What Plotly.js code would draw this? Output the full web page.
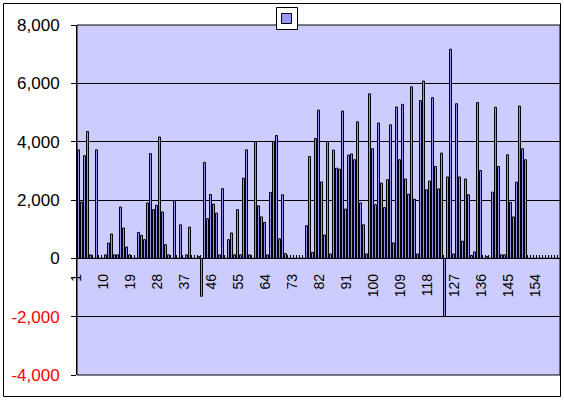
<!DOCTYPE html>
<html>
<head>
<meta charset="utf-8">
<script src="https://cdn.plot.ly/plotly-3.0.1.min.js"></script>
<style>
html,body{margin:0;padding:0;background:#fff;}
#chart{width:564px;height:400px;}
</style>
</head>
<body>
<div id="chart"></div>
<script>
// Category indices (1..161)
var categories = [
1,2,3,4,5,6,7,8,9,10,11,12,13,14,15,16,17,18,19,20,
21,22,23,24,25,26,27,28,29,30,31,32,33,34,35,36,37,38,39,40,
41,42,43,44,45,46,47,48,49,50,51,52,53,54,55,56,57,58,59,60,
61,62,63,64,65,66,67,68,69,70,71,72,73,74,75,76,77,78,79,80,
81,82,83,84,85,86,87,88,89,90,91,92,93,94,95,96,97,98,99,100,
101,102,103,104,105,106,107,108,109,110,111,112,113,114,115,116,117,118,119,120,
121,122,123,124,125,126,127,128,129,130,131,132,133,134,135,136,137,138,139,140,
141,142,143,144,145,146,147,148,149,150,151,152,153,154,155,156,157,158,159,160,161];

// Series values
var values = [
3720,1930,3520,4350,120,0,3720,0,0,120,
525,835,120,120,1760,1040,390,120,0,0,
890,790,640,1900,3590,1670,1820,4160,1590,470,
120,0,1980,0,1150,0,120,1070,0,0,
60,-1300,3290,1360,2190,1860,1550,120,2390,0,
640,870,120,1670,120,2750,3720,120,0,4000,
1800,1420,1230,120,2260,4010,4210,670,2180,160,
0,0,0,0,0,0,1120,3490,200,4110,
5080,2620,800,4010,150,3710,3090,3060,5050,1690,
3540,3580,3380,4680,1900,1150,150,5640,3760,1840,
4640,2580,1740,2700,4580,530,5190,3380,5280,2720,
2200,5880,2030,150,5410,6080,2350,2650,5510,3150,
2380,3610,-2000,2790,7170,150,5300,2790,590,2720,
2180,100,220,5340,3010,0,60,0,2270,5180,
3150,120,120,3550,1920,1420,2610,5220,3760,3380,
0,0,0,0,0,0,0,0,0,0,0];

// Category tick labels
var xTickVals = [1,10,19,28,37,46,55,64,73,82,91,100,109,118,127,136,145,154];
var xTickText = ['1','10','19','28','37','46','55','64','73','82','91','100','109','118','127','136','145','154'];

// Value axis tick labels
var yTickVals = [-4000,-2000,0,2000,4000,6000,8000];
var yTickText = ['-4,000','-2,000','0','2,000','4,000','6,000','8,000'];

var yRange = [-4000, 8000];
var plotW = 564, plotH = 400;
var mL = 77, mR = 4, mT = 25, mB = 25;
var areaW = plotW - mL - mR, areaH = plotH - mT - mB;
function px2x(p){ return (p - mL) / areaW; }
function px2y(p){ return (plotH - mB - p) / areaH; }

var yText = yTickText.map(function(t, i){
  return yTickVals[i] < 0 ? '<span style="fill:#ff0000">' + t + '</span>' : t;
});

var trace = {
  type: 'bar',
  x: categories,
  y: values,
  marker: {color: '#9999FF', line: {color: '#000000', width: 1}},
  showlegend: false,
  hoverinfo: 'skip'
};

var layout = {
  width: plotW, height: plotH,
  margin: {l: mL, r: mR, t: mT, b: mB, pad: 0},
  paper_bgcolor: '#ffffff',
  plot_bgcolor: '#CCCCFF',
  bargap: 0.35,
  font: {family: 'Liberation Sans, Arial, sans-serif', color: '#000000'},
  xaxis: {
    type: 'linear',
    range: [0.5, categories.length + 0.5],
    anchor: 'free',
    position: (0 - yRange[0]) / (yRange[1] - yRange[0]),
    showline: true, linecolor: '#000000', linewidth: 1,
    showgrid: false, zeroline: false,
    tickmode: 'array', tickvals: xTickVals, ticktext: xTickText,
    tickangle: -90,
    ticks: '',
    ticklabelstandoff: 9,
    ticklabelshift: -2,
    tickfont: {size: 14, family: 'Liberation Sans, Arial, sans-serif', color: '#000000'},
    minor: {ticks: 'inside', ticklen: 3, tickcolor: '#000000', tickwidth: 1, dtick: 1, tick0: 0.5, showgrid: false}
  },
  yaxis: {
    range: yRange,
    tickmode: 'array', tickvals: yTickVals, ticktext: yText,
    ticks: 'outside', ticklen: 5, tickcolor: '#000000',
    ticklabelstandoff: 8,
    showline: true, linecolor: '#000000', linewidth: 1,
    showgrid: true, gridcolor: '#000000', gridwidth: 1,
    zeroline: true, zerolinecolor: '#000000', zerolinewidth: 1,
    tickfont: {size: 17, family: 'Liberation Sans, Arial, sans-serif', color: '#000000'}
  },
  shapes: [
    // plot area frame
    {type: 'rect', xref: 'paper', yref: 'paper', x0: 0, x1: 1, y0: 0, y1: 1,
     line: {color: '#000000', width: 1}, layer: 'below'},
    // outer chart border
    {type: 'rect', xref: 'paper', yref: 'paper',
     x0: px2x(3.5), x1: px2x(560.5), y0: px2y(396.5), y1: px2y(3.5),
     line: {color: '#000000', width: 1}},
    // legend box
    {type: 'rect', xref: 'paper', yref: 'paper',
     x0: px2x(276.5), x1: px2x(297.5), y0: px2y(29.5), y1: px2y(7.5),
     fillcolor: '#ffffff', line: {color: '#000000', width: 1}},
    // legend key
    {type: 'rect', xref: 'paper', yref: 'paper',
     x0: px2x(281.5), x1: px2x(291.5), y0: px2y(23.5), y1: px2y(13.5),
     fillcolor: '#9999FF', line: {color: '#000000', width: 1}}
  ]
};

Plotly.newPlot('chart', [trace], layout, {staticPlot: true, displayModeBar: false});
</script>
</body>
</html>
